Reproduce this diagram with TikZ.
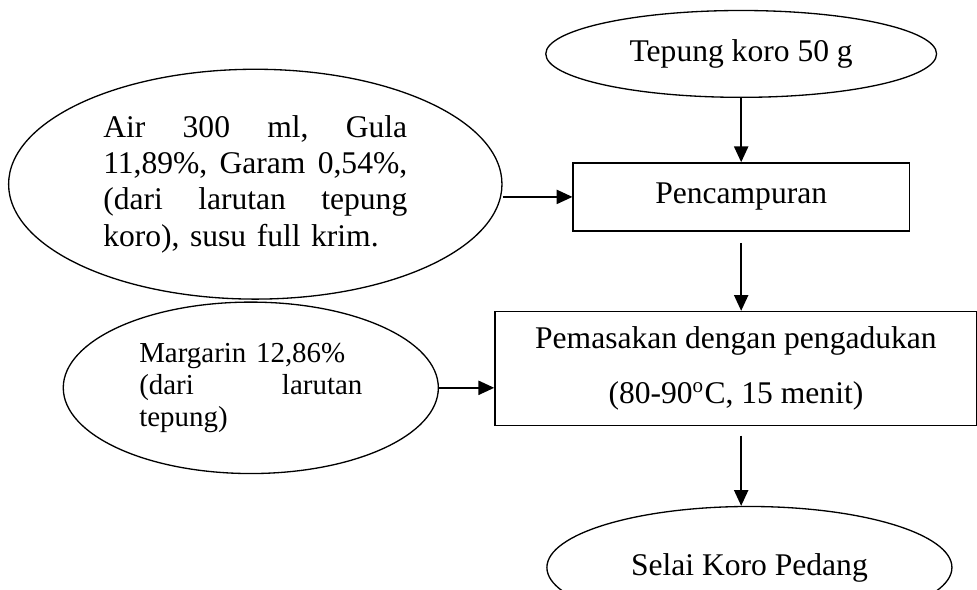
\documentclass[tikz,border=0pt]{standalone}
\usepackage{fontspec}
\setmainfont{Liberation Serif}
\usepackage{tikz}
\usetikzlibrary{shapes.geometric,arrows.meta}

\begin{document}
\begin{tikzpicture}[
        ovalnode/.style={ellipse, draw=black, line width=0.5pt, inner sep=0pt, font=\fontsize{12}{13.8}\selectfont},
        boxnode/.style={rectangle, draw=black, line width=0.5pt, inner sep=0pt, font=\fontsize{12}{13.8}\selectfont},
        arrowline/.style={-{Triangle[length=6pt,width=5.4pt]}, line width=0.6pt}
        ]
            \useasboundingbox (0,0) rectangle (13.05,-7.87);

            \node[ovalnode, minimum width=5.22cm, minimum height=1.16cm] (T) at (9.90,-0.72) {Tepung koro 50 g};
            \node[boxnode, minimum width=4.49cm, minimum height=0.91cm] (P1) at (9.90,-2.63) {Pencampuran};
            \node[boxnode, minimum width=6.44cm, minimum height=1.52cm, align=center, font=\fontsize{12}{21}\selectfont] (P2) at (9.83,-4.92) {Pemasakan dengan pengadukan\\(80-90\textsuperscript{o}C, 15 menit)};
            \node[ovalnode, minimum width=5.41cm, minimum height=1.63cm] (S) at (10.01,-7.58) {Selai Koro Pedang};
            \node[ovalnode, minimum width=6.59cm, minimum height=3.07cm, text width=4.06cm, align=left] (B1) at (3.41,-2.46)
                {Air\hfill 300\hfill ml,\hfill Gula\\11,89\%,\hfill Garam\hfill 0,54\%,\\(dari\hfill larutan\hfill tepung\\koro), susu full krim.};
            \node[ovalnode, minimum width=5.01cm, minimum height=2.29cm, text width=2.98cm, align=left, font=\fontsize{11}{12.2}\selectfont] (B2) at (3.35,-5.18)
                {Margarin 12,86\%\\(dari\hfill larutan\\tepung)};

            \draw[arrowline] (T.south) -- (P1.north);
            \draw[arrowline] (P1.west -| B1.east) -- (P1.west);
            \draw[arrowline, shorten <=0.15cm] (P1.south) -- (P1.south |- P2.north);
            \draw[arrowline] (B2.east) -- (B2.east -| P2.west);
            \draw[arrowline, shorten <=0.13cm] (P1.south |- P2.south) -- (P1.south |- S.north);

        \end{tikzpicture}
\end{document}
